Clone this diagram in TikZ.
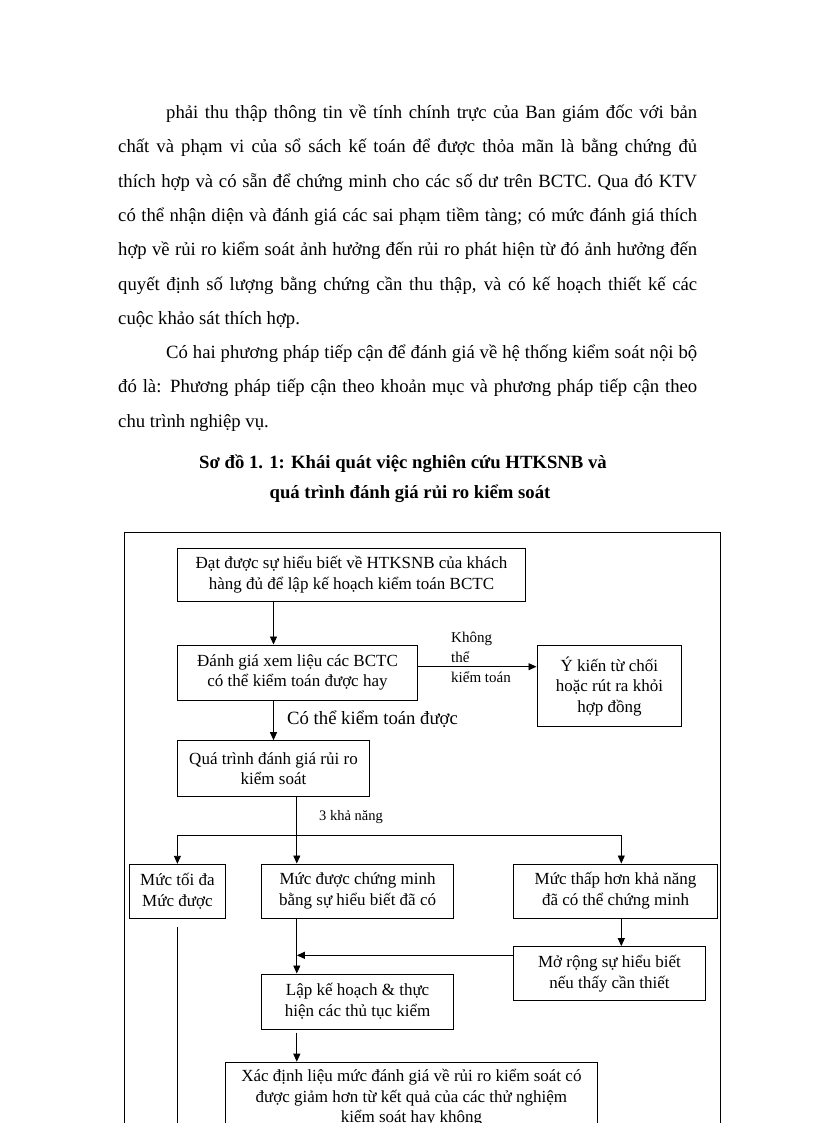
\documentclass[tikz,border=0pt]{standalone}
\usepackage{fontspec}
\setmainfont{Liberation Serif}
\usetikzlibrary{arrows.meta, positioning, calc}

\newcommand{\jline}[2]{\makebox[#1][s]{#2}}

\begin{document}
\begin{tikzpicture}[x=1pt,y=-1pt,
  body/.style={font=\fontsize{18.7}{34}\selectfont, inner sep=0pt},
  caption/.style={font=\fontsize{18.7}{30}\selectfont\bfseries, inner sep=0pt},
  box/.style={draw, line width=1pt, align=center, inner sep=0pt,
    font=\fontsize{17}{20.7}\selectfont},
  lbl/.style={inner sep=0pt, align=left},
  conn/.style={line width=0.9pt},
  arr/.style={conn, -{Triangle[length=8pt,width=7pt]}}
]
\useasboundingbox (0,0) rectangle (816,1123);

%text above the chart
\node[body, anchor=base west] (p1) at (166,118.5) {\jline{531pt}{phải thu thập thông tin về tính chính trực của Ban giám  đốc với bản}};
\node[body, anchor=base west] (p2) at (118,152.8) {\jline{579pt}{chất và phạm vi  của sổ sách kế toán để được thỏa mãn là  bằng chứng đủ}};
\node[body, anchor=base west] (p3) at (118,187.1) {\jline{579pt}{thích hợp và có sẵn để chứng minh  cho các số dư trên  BCTC. Qua đó KTV}};
\node[body, anchor=base west] (p4) at (118,221.4) {\jline{579pt}{có thể nhận diện và đánh giá  các sai phạm tiềm  tàng; có mức đánh giá  thích}};
\node[body, anchor=base west] (p5) at (118,255.7) {\jline{579pt}{hợp về rủi ro kiểm  soát ảnh hưởng đến rủi ro phát hiện từ đó ảnh hưởng đến}};
\node[body, anchor=base west] (p6) at (118,290) {\jline{579pt}{quyết  định  số lượng  bằng chứng  cần thu thập, và  có kế hoạch thiết  kế các}};
\node[body, anchor=base west] (p7) at (118,324.3) {cuộc khảo sát thích hợp.};
\node[body, anchor=base west] (q1) at (166,358.6) {\jline{531pt}{Có hai phương pháp tiếp  cận để đánh giá  về hệ thống kiểm  soát nội bộ}};
\node[body, anchor=base west] (q2) at (118,392.9) {\jline{579pt}{đó là:  Phương pháp tiếp  cận theo khoản mục và phương pháp tiếp  cận theo}};
\node[body, anchor=base west] (q3) at (118,427.2) {chu trình nghiệp vụ.};

%caption
\node[caption, anchor=base] (cap1) at (403,468) {Sơ đồ 1. 1: Khái quát việc nghiên cứu HTKSNB và};
\node[caption, anchor=base] (cap2) at (410,498) {quá trình  đánh giá rủi ro kiểm soát};

%frame
\draw[line width=1pt] (124,1200) |- (720,532.7) -- (720,1200);

%boxes
\node[box, minimum width=348.3pt, minimum height=52.7pt] (know) at (351.5,574.7) {Đạt được sự hiểu biết về HTKSNB  của khách\\hàng đủ để lập kế hoạch kiểm toán BCTC};
\node[box, minimum width=240.3pt, minimum height=55pt] (audit) at (297.5,672.5) {Đánh  giá xem liệu các BCTC\\có thể kiểm toán được hay};
\node[box, minimum width=144.8pt, minimum height=80.7pt] (refuse) at (609.4,686.3) {Ý kiến từ chối\\hoặc rút ra khỏi\\hợp đồng};
\node[box, minimum width=192pt, minimum height=56pt] (risk) at (273.5,768.7) {Quá trình đánh giá rủi ro\\kiểm soát};
\node[box, minimum width=95.6pt, minimum height=54pt] (maxlvl) at (177.4,891.3) {Mức tối đa\\Mức được};
\node[box, minimum width=192pt, minimum height=54pt] (provlvl) at (357.6,891) {Mức được chứng minh\\bằng  sự hiểu biết đã có};
\node[box, minimum width=204.4pt, minimum height=54pt] (lowlvl) at (615.6,891) {Mức thấp  hơn khả năng\\đã có thể chứng minh};
\node[box, minimum width=192pt, minimum height=54.3pt] (widen) at (609.5,973.8) {Mở rộng sự hiểu biết\\nếu thấy cần thiết};
\node[box, minimum width=192pt, minimum height=55pt] (plan) at (357.6,1001.5) {Lập kế hoạch  \& thực\\hiện các thủ tục kiểm};
\node[box, minimum width=372.4pt, minimum height=71pt, anchor=north] (decide) at (411.4,1061.7) {Xác định liệu mức đánh giá về rủi ro kiểm soát có\\được giảm hơn từ kết quả  của các thử nghiệm\\kiểm soát hay  không};

%labels
\node[lbl, font=\fontsize{15}{20}\selectfont, anchor=west] (noaudit) at (451,657) {Không\\thể\\kiểm  toán};
\node[lbl, font=\fontsize{18.7}{22}\selectfont, anchor=base west] (yesaudit) at (287,724.5) {Có thể kiểm  toán được};
\node[lbl, font=\fontsize{14.5}{17}\selectfont, anchor=base west] (three) at (319,820) {3 khả năng};

%connectors
\coordinate (split) at (296.8,835.7);
\coordinate (rcol) at (621.3,835.7);
\coordinate (maxend) at (177.4,1140);
\draw[arr] (know.south -| risk.north) -- (audit.north -| risk.north);
\draw[arr] (audit.south -| risk.north) -- (risk.north);
\draw[arr] ([yshift=5.8pt]audit.east) -- ([yshift=5.8pt]audit.east -| refuse.west);
\draw[conn] (risk.south -| split) -- (split);
\draw[arr] (split) -- (split |- provlvl.north);
\draw[arr] (split) -| (maxlvl.north);
\draw[arr] (split) -| (rcol |- lowlvl.north);
\draw[arr] (lowlvl.south -| rcol) -- (widen.north -| rcol);
\draw[arr] (provlvl.south -| split) -- (plan.north -| split);
\draw[arr] ([yshift=18.5pt]widen.west) -- ([yshift=18.5pt]widen.west -| split);
\draw[arr] ([yshift=-3pt]plan.south -| split) -- (decide.north -| split);
\draw[conn] ([yshift=-8pt]maxlvl.south) -- (maxend);
\end{tikzpicture}
\end{document}
